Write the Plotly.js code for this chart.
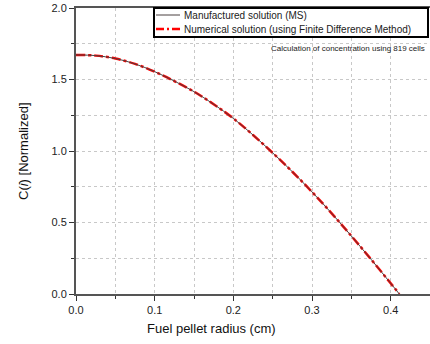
<!DOCTYPE html>
<html><head><meta charset="utf-8">
<script src="https://cdn.plot.ly/plotly-3.0.1.min.js"></script>
<style>html,body{margin:0;padding:0;background:#fff}#c{width:430px;height:344px}</style>
</head><body><div id="c"></div>
<script>
const radius = [0, 0.025, 0.05, 0.075, 0.1, 0.125, 0.15, 0.175, 0.2, 0.225, 0.25, 0.275, 0.3, 0.325, 0.35, 0.375, 0.4, 0.411];
const msValues = [1.672, 1.667, 1.647, 1.609, 1.555, 1.489, 1.415, 1.327, 1.228, 1.112, 0.987, 0.855, 0.714, 0.564, 0.406, 0.243, 0.075, 0.0];
const fdmValues = [1.672, 1.667, 1.647, 1.609, 1.555, 1.489, 1.415, 1.327, 1.228, 1.112, 0.987, 0.855, 0.714, 0.564, 0.406, 0.243, 0.075, 0.0];
const seriesNames = ["Manufactured solution (MS)", "Numerical solution (using Finite Difference Method)"];
const xTicks = [0, 0.1, 0.2, 0.3, 0.4];
const xTickLabels = ["0.0", "0.1", "0.2", "0.3", "0.4"];
const yTicks = [0, 0.5, 1.0, 1.5, 2.0];
const yTickLabels = ["0.0", "0.5", "1.0", "1.5", "2.0"];

const W = 430, H = 344, ML = 76, MR = 0, MT = 8, MB = 50;
const pw = W - ML - MR, ph = H - MT - MB;
const px = v => (v - ML) / pw;      // pixel -> paper x
const py = v => (H - MB - v) / ph;  // pixel -> paper y

const msLine = {color: "#4a4040", width: 1};
const fdmLine = {color: "#ff0000", width: 2.5, dash: "dashdot"};

const traces = [
  {x: radius, y: fdmValues, name: seriesNames[1], mode: "lines", line: Object.assign({shape: "spline", smoothing: 1}, fdmLine), showlegend: false},
  {x: radius, y: msValues, name: seriesNames[0], mode: "lines", line: Object.assign({shape: "spline", smoothing: 1}, msLine), showlegend: false}
];

// compact legend box
const legL = 154, legR = 428, legT = 8, legB = 37, row1 = 15, row2 = 29, sx0 = 156, sx1 = 180, tx = 182;
const shapes = [
  {type: "rect", xref: "paper", yref: "paper", x0: px(legL), x1: px(legR), y0: py(legB), y1: py(legT), fillcolor: "#fff", line: {color: "#000", width: 2}, layer: "above"},
  {type: "line", xref: "paper", yref: "paper", x0: px(sx0), x1: px(sx1), y0: py(row1), y1: py(row1), line: msLine, layer: "above"},
  {type: "line", xref: "paper", yref: "paper", x0: px(sx0), x1: px(sx1), y0: py(row2), y1: py(row2), line: {color: "#ff0000", width: 2.5, dash: "8px,3px,2px,3px"}, layer: "above"}
];
const annotations = [
  {xref: "paper", yref: "paper", x: px(tx), y: py(row1), xanchor: "left", yanchor: "middle", showarrow: false, text: seriesNames[0], font: {size: 10, color: "#222"}},
  {xref: "paper", yref: "paper", x: px(tx), y: py(row2), xanchor: "left", yanchor: "middle", showarrow: false, text: seriesNames[1], font: {size: 10, color: "#222"}},
  {xref: "paper", yref: "paper", x: px(427), y: py(48), xanchor: "right", yanchor: "middle", showarrow: false,
   text: "Calculation of concentration using 819 cells", font: {size: 8, color: "#222"}},
  {xref: "paper", yref: "paper", x: px(23), y: 0.5, xanchor: "center", yanchor: "middle", textangle: -90, showarrow: false,
   text: "C(<i>i</i>) [Normalized]", font: {size: 13, color: "#111"}},
  {xref: "paper", yref: "paper", x: px(211), y: py(328), xanchor: "center", yanchor: "middle", showarrow: false,
   text: "Fuel pellet radius (cm)", font: {size: 13, color: "#111"}}
];

const layout = {
  width: W, height: H,
  margin: {l: ML, r: MR, t: MT, b: MB},
  paper_bgcolor: "#fff", plot_bgcolor: "#fff",
  font: {family: "Liberation Sans, Arial, sans-serif", size: 11, color: "#222"},
  showlegend: false,
  xaxis: {range: [0, 0.45], tickvals: xTicks, ticktext: xTickLabels, ticks: "outside", ticklen: 5, tickwidth: 1, tickcolor: "#333",
          showline: true, linecolor: "#555", linewidth: 2, mirror: true, zeroline: false, showgrid: false,
          minor: {dtick: 0.05, tick0: 0.05, ticks: "outside", ticklen: 3, tickcolor: "#333", showgrid: true, gridcolor: "#c8c8c8", gridwidth: 1, griddash: "dot"}},
  yaxis: {range: [0, 2.0], tickvals: yTicks, ticktext: yTickLabels, ticks: "outside", ticklen: 5, tickwidth: 1, tickcolor: "#333",
          showline: true, linecolor: "#555", linewidth: 2, zeroline: false, showgrid: false,
          minor: {dtick: 0.25, tick0: 0.25, ticks: "outside", ticklen: 3, tickcolor: "#333", showgrid: true, gridcolor: "#c8c8c8", gridwidth: 1, griddash: "dot"}},
  shapes: shapes,
  annotations: annotations
};
Plotly.newPlot("c", traces, layout, {displayModeBar: false, staticPlot: true});
</script></body></html>
